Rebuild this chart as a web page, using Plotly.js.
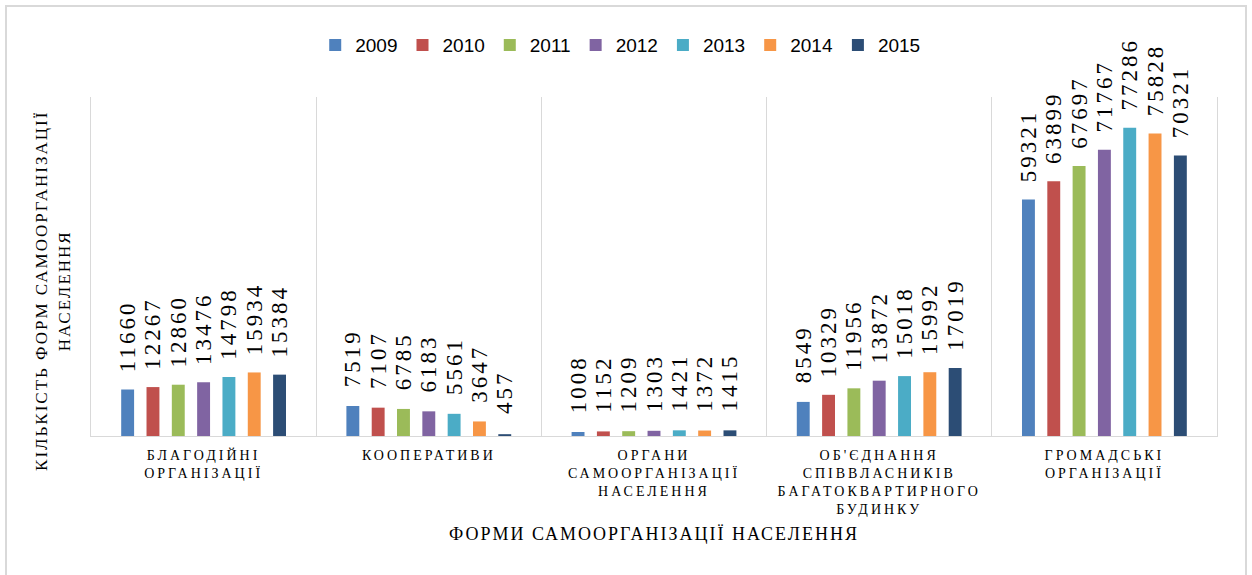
<!DOCTYPE html>
<html>
<head>
<meta charset="utf-8">
<script src="https://cdn.plot.ly/plotly-3.0.1.min.js"></script>
<style>
  html, body { margin: 0; padding: 0; background: #fff; }
  #chart { position: absolute; left: 0; top: 0; width: 1252px; height: 575px; }
  #frame { position: absolute; left: 5px; top: 5px; width: 1238px; height: 580px;
           border: 2px solid #d9d9d9; pointer-events: none; }
  #chart .xtick text { letter-spacing: 3px; }
  #chart .bartext { letter-spacing: 3px; }
  #chart .xtitle, #chart .annotation-text { letter-spacing: 2px; }
</style>
</head>
<body>
<div id="chart"></div>
<div id="frame"></div>
<script>
const categories = [
  'БЛАГОДІЙНІ<br>ОРГАНІЗАЦІЇ',
  'КООПЕРАТИВИ',
  'ОРГАНИ<br>САМООРГАНІЗАЦІЇ<br>НАСЕЛЕННЯ',
  "ОБ'ЄДНАННЯ<br>СПІВВЛАСНИКІВ<br>БАГАТОКВАРТИРНОГО<br>БУДИНКУ",
  'ГРОМАДСЬКІ<br>ОРГАНІЗАЦІЇ'
];
const years = ['2009', '2010', '2011', '2012', '2013', '2014', '2015'];
const v2009 = [11660, 7519, 1008, 8549, 59321];
const v2010 = [12267, 7107, 1152, 10329, 63899];
const v2011 = [12860, 6785, 1209, 11956, 67697];
const v2012 = [13476, 6183, 1303, 13872, 71767];
const v2013 = [14798, 5561, 1421, 15018, 77286];
const v2014 = [15934, 3647, 1372, 15992, 75828];
const v2015 = [15384, 457, 1415, 17019, 70321];
const seriesValues = [v2009, v2010, v2011, v2012, v2013, v2014, v2015];
const colors = ['#4F81BD', '#C0504D', '#9BBB59', '#8064A2', '#4BACC6', '#F79646', '#2C4D75'];
const xTitle = 'ФОРМИ САМООРГАНІЗАЦІЇ НАСЕЛЕННЯ';
const yTitle = 'КІЛЬКІСТЬ ФОРМ САМООРГАНІЗАЦІЇ<br>НАСЕЛЕННЯ';

const SERIF = "'Liberation Serif', 'DejaVu Serif', serif";

const traces = years.map((yr, i) => ({
  type: 'bar',
  name: yr,
  x: categories,
  y: seriesValues[i],
  text: seriesValues[i].map(String),
  texttemplate: '\u00a0\u00a0\u00a0%{text}',
  textposition: 'outside',
  textangle: -90,
  constraintext: 'none',
  cliponaxis: false,
  textfont: { family: SERIF, size: 23, color: '#000' },
  marker: { color: colors[i], line: { width: 0 } },
  hoverinfo: 'none'
}));

const layout = {
  width: 1252,
  height: 575,
  margin: { l: 91, r: 35, t: 97, b: 139 },
  paper_bgcolor: '#fff',
  plot_bgcolor: '#fff',
  barmode: 'group',
  bargap: 0.213,
  bargroupgap: 0.49,
  showlegend: true,
  legend: {
    orientation: 'h',
    x: 0.47, xanchor: 'center',
    y: 1.153, yanchor: 'middle',
    font: { family: "'Liberation Sans', Arial, sans-serif", size: 19, color: '#000' },
    traceorder: 'normal'
  },
  xaxis: {
    type: 'category',
    showline: true,
    linecolor: '#d9d9d9',
    linewidth: 1,
    showgrid: true,
    gridcolor: '#d9d9d9',
    gridwidth: 1,
    tickson: 'boundaries',
    ticks: '',
    ticklabelstandoff: 6,
    tickfont: { family: SERIF, size: 14, color: '#000' },
    title: {
      text: xTitle,
      font: { family: SERIF, size: 18, color: '#000' },
      standoff: 10
    },
    automargin: false
  },
  yaxis: {
    range: [0, 85000],
    showline: true,
    mirror: true,
    linecolor: '#d9d9d9',
    linewidth: 1,
    showgrid: false,
    zeroline: false,
    showticklabels: false,
    ticks: '',
    automargin: false
  },
  annotations: [{
    text: yTitle,
    xref: 'paper', yref: 'paper',
    x: -0.034, y: 0.43,
    xanchor: 'center', yanchor: 'middle',
    textangle: -90,
    showarrow: false,
    align: 'center',
    font: { family: SERIF, size: 17, color: '#000' }
  }]
};

Plotly.newPlot('chart', traces, layout, { displayModeBar: false, staticPlot: true });
</script>
</body>
</html>
